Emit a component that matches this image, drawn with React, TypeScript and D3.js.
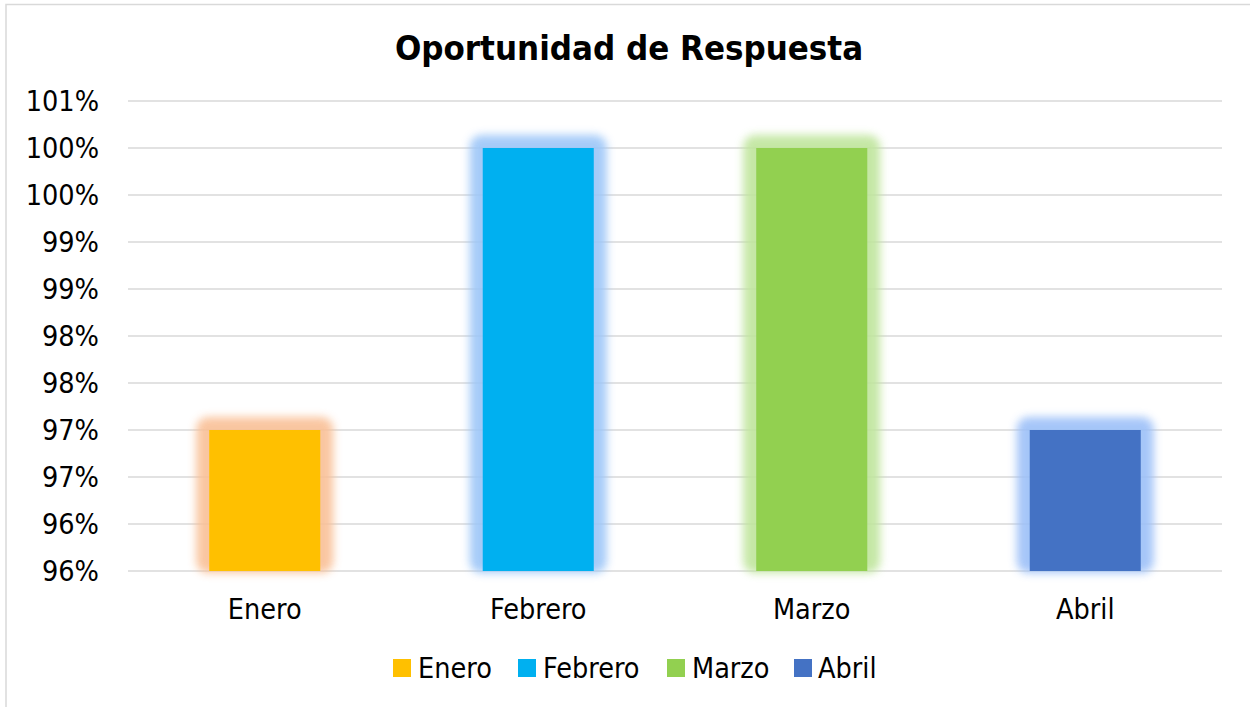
import React from "react";
import * as d3 from "d3";

const categories = ["Enero", "Febrero", "Marzo", "Abril"];
const values = [97, 100, 100, 97];
const yTicks = [95.5, 96, 96.5, 97, 97.5, 98, 98.5, 99, 99.5, 100, 100.5];
const barColors = ["#FFC000", "#00B0F0", "#92D050", "#4472C4"];
const glowColors = ["#F9C096", "#9CC6F8", "#BFE59C", "#9CC0F8"];
const title = "Oportunidad de Respuesta";

const W = 1250;
const H = 707;
const FONT = "'DejaVu Sans Condensed', 'DejaVu Sans', sans-serif";

export default function App() {
  const plot = { left: 128, right: 1222, top: 101, bottom: 571 };
  const x = d3
    .scaleBand<string>()
    .domain(categories)
    .range([plot.left, plot.right])
    .paddingInner(0.594)
    .paddingOuter(0.297);
  const y = d3.scaleLinear().domain([95.5, 100.5]).range([plot.bottom, plot.top]);
  const fmt = (v: number) => `${Math.round(v)}%`;

  const legendItems = [
    { sq: 393, tx: 418 },
    { sq: 518, tx: 543 },
    { sq: 667, tx: 692 },
    { sq: 794, tx: 818 },
  ];

  return (
    <svg
      width={W}
      height={H}
      style={{ position: "absolute", left: 0, top: 0, background: "#fff" }}
      fontFamily={FONT}
    >
      <defs>
        <filter id="glow" x="-50%" y="-50%" width="200%" height="200%">
          <feGaussianBlur stdDeviation="4" />
        </filter>
      </defs>
      <rect x={0} y={0} width={W} height={H} fill="#fff" />
      <rect x={6} y={4.5} width={1300} height={760} fill="none" stroke="#D9D9D9" strokeWidth={1.5} />

      <text x={629} y={60} textAnchor="middle" fontSize={34.5} fontWeight="bold" fill="#000">
        {title}
      </text>

      {yTicks.map((t) => (
        <g key={t}>
          <line x1={plot.left} x2={plot.right} y1={y(t)} y2={y(t)} stroke="#D9D9D9" strokeWidth={1.5} />
          <text x={99} y={y(t)} dy="0.36em" textAnchor="end" fontSize={28.5} fill="#000">
            {fmt(t)}
          </text>
        </g>
      ))}

      {categories.map((c, i) => {
        const bx = x(c)!;
        const bw = x.bandwidth();
        const top = y(values[i]);
        const bottom = y(95.5);
        return (
          <g key={c}>
            <rect
              x={bx - 13}
              y={top - 13}
              width={bw + 26}
              height={bottom - top + 15}
              rx={12}
              fill={glowColors[i]}
              opacity={0.9}
              filter="url(#glow)"
            />
            <rect x={bx} y={top} width={bw} height={bottom - top} fill={barColors[i]} />
          </g>
        );
      })}

      {categories.map((c) => (
        <text
          key={c}
          x={x(c)! + x.bandwidth() / 2}
          y={619}
          textAnchor="middle"
          fontSize={28.5}
          fill="#000"
        >
          {c}
        </text>
      ))}

      {categories.map((c, i) => (
        <g key={c}>
          <rect x={legendItems[i].sq} y={659} width={18} height={18} fill={barColors[i]} />
          <text x={legendItems[i].tx} y={678} fontSize={28.5} fill="#000">
            {c}
          </text>
        </g>
      ))}
    </svg>
  );
}
